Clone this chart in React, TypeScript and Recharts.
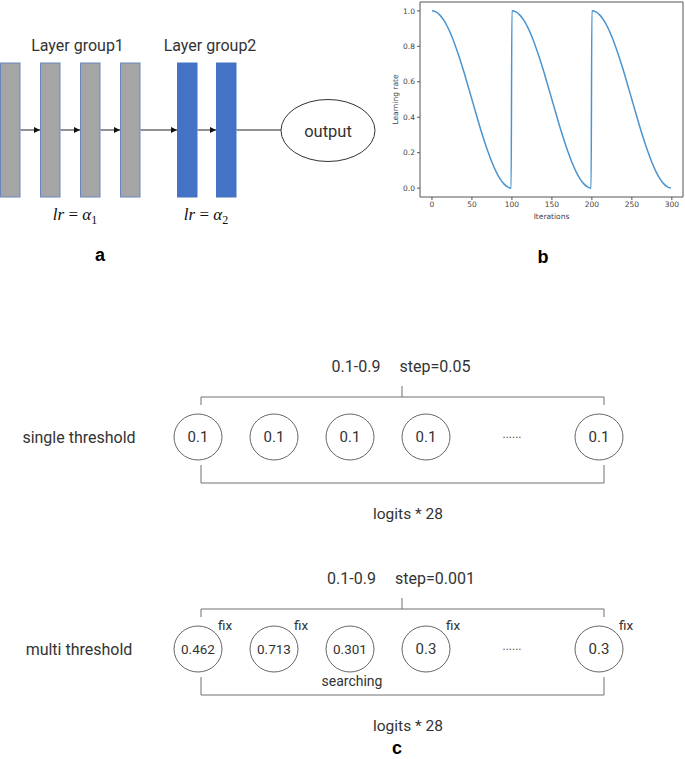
import React from "react";
import { LineChart, Line, XAxis, YAxis, ReferenceArea } from "recharts";

// panel b: cosine annealing with warm restarts
const cycleStarts = [0, 100, 200];
const cycleSteps = [0, 5, 10, 15, 20, 25, 30, 35, 40, 45, 50, 55, 60, 65, 70, 75, 80, 85, 90, 95, 99];
const cycleLr = [
  1.0, 0.994, 0.976, 0.946, 0.905, 0.854, 0.794, 0.727, 0.655, 0.578, 0.5,
  0.422, 0.345, 0.273, 0.206, 0.146, 0.095, 0.054, 0.024, 0.006, 0.0,
];
const xTicks = [0, 50, 100, 150, 200, 250, 300];
const yTicks = [0, 0.2, 0.4, 0.6, 0.8, 1.0];
const xDomain = [-14.95, 313.95];
const yDomain = [-0.05, 1.05];

// panel a
const groupLabels = ["Layer group1", "Layer group2"];
const groupLrIndex = ["1", "2"];
const outputLabel = "output";

// panel c
const rowTitles = ["single threshold", "multi threshold"];
const rowRanges = ["0.1-0.9", "0.1-0.9"];
const rowSteps = ["step=0.05", "step=0.001"];
const singleValues = ["0.1", "0.1", "0.1", "0.1", "0.1"];
const multiValues = ["0.462", "0.713", "0.301", "0.3", "0.3"];
const multiStatus = ["fix", "fix", "searching", "fix", "fix"];
const countLabel = "logits * 28";
const panelLetters = ["a", "b", "c"];

const lrData = cycleStarts.flatMap((start) =>
  cycleSteps.map((s, i) => ({ iter: start + s, lr: cycleLr[i] }))
);

const SANS = "Roboto, 'Noto Sans', sans-serif";
const TEXT = "#333";
const LINE = "#707070";

// layout
const grayBarX = [0, 40, 80, 120];
const blueBarX = [177, 216];
const BAR_W = 20.5;
const BAR_TOP = 63;
const BAR_BOTTOM = 197;
const ARROW_Y = 130;
const circleXs = [198, 274, 350, 426, 599];
const DOTS_X = 512;
const BRACE_L = 201;
const BRACE_R = 604;
const BRACE_MID = 402;
const rowCy = [437, 649];

function LayerPanel() {
  const bars = [...grayBarX.map((x) => ({ x, blue: false })), ...blueBarX.map((x) => ({ x, blue: true }))];
  const links: { x1: number; x2: number; arrow: boolean }[] = [];
  for (let i = 0; i < bars.length - 1; i++) {
    links.push({ x1: bars[i].x + BAR_W, x2: bars[i + 1].x, arrow: true });
  }
  links.push({ x1: bars[bars.length - 1].x + BAR_W, x2: 281, arrow: false });
  return (
    <g>
      <defs>
        <marker id="arr" markerWidth="6" markerHeight="6" refX="6" refY="3" orient="auto" markerUnits="userSpaceOnUse">
          <path d="M0,0 L6,3 L0,6 z" fill="#111" />
        </marker>
      </defs>
      {links.map((l, i) => (
        <line key={i} x1={l.x1} x2={l.x2} y1={ARROW_Y} y2={ARROW_Y} stroke="#222" strokeWidth={1} markerEnd={l.arrow ? "url(#arr)" : undefined} />
      ))}
      {bars.map((b, i) => (
        <rect
          key={i}
          x={b.x + 0.5}
          y={BAR_TOP}
          width={BAR_W - 1}
          height={BAR_BOTTOM - BAR_TOP}
          fill={b.blue ? "#4472c4" : "#a5a5a5"}
          stroke={b.blue ? "#4472c4" : "#6a86c0"}
          strokeWidth={1}
        />
      ))}
      <ellipse cx={328} cy={130.5} rx={47} ry={31} fill="#fff" stroke="#333" strokeWidth={1} />
      <text x={328} y={131} textAnchor="middle" dominantBaseline="central" fontFamily={SANS} fontSize={16.5} fill={TEXT}>
        {outputLabel}
      </text>
      {groupLabels.map((g, i) => (
        <text key={g} x={i === 0 ? 77.5 : 210} y={45} textAnchor="middle" dominantBaseline="central" fontFamily={SANS} fontSize={16} fill={TEXT}>
          {g}
        </text>
      ))}
      {groupLrIndex.map((k, i) => (
        <text key={k} x={i === 0 ? 75 : 206} y={220} textAnchor="middle" fontFamily="'Liberation Serif', 'DejaVu Serif', serif" fontSize={17} fill="#111">
          <tspan fontStyle="italic">lr</tspan>
          <tspan> = </tspan>
          <tspan fontStyle="italic">α</tspan>
          <tspan fontSize={12} dy={4}>{k}</tspan>
        </text>
      ))}
    </g>
  );
}

function ThresholdRow({ idx }: { idx: number }) {
  const cy = rowCy[idx];
  const values = idx === 0 ? singleValues : multiValues;
  const topY = cy - 40;
  const botY = cy + 46;
  return (
    <g fontFamily={SANS} fill={TEXT}>
      <text x={401} y={cy - 71} textAnchor="middle" dominantBaseline="central" fontSize={16}>
        <tspan>{rowRanges[idx]}</tspan>
        <tspan dx={19}>{rowSteps[idx]}</tspan>
      </text>
      <path
        d={`M${BRACE_L},${cy - 32} L${BRACE_L},${topY} L${BRACE_R},${topY} L${BRACE_R},${cy - 32} M${BRACE_MID},${topY} L${BRACE_MID},${cy - 51}`}
        fill="none"
        stroke={LINE}
        strokeWidth={1}
      />
      <path
        d={`M${BRACE_L},${cy + 28} L${BRACE_L},${botY} L${BRACE_R},${botY} L${BRACE_R},${cy + 28}`}
        fill="none"
        stroke={LINE}
        strokeWidth={1}
      />
      <text x={79} y={cy} textAnchor="middle" dominantBaseline="central" fontSize={16}>
        {rowTitles[idx]}
      </text>
      {values.map((v, i) => (
        <g key={i}>
          <ellipse cx={circleXs[i]} cy={cy} rx={24} ry={23} fill="none" stroke="#666" strokeWidth={1} />
          <text x={circleXs[i]} y={cy} textAnchor="middle" dominantBaseline="central" fontSize={v.length > 3 ? 13.5 : 15}>
            {v}
          </text>
        </g>
      ))}
      <text x={DOTS_X} y={cy - 3} textAnchor="middle" dominantBaseline="central" fontSize={12} fill="#555">
        ......
      </text>
      {idx === 1 &&
        multiStatus.map((s, i) =>
          s === "fix" ? (
            <text key={i} x={circleXs[i] + 27} y={cy - 24} textAnchor="middle" dominantBaseline="central" fontSize={13.5}>
              {s}
            </text>
          ) : (
            <text key={i} x={circleXs[i] + 2} y={cy + 32} textAnchor="middle" dominantBaseline="central" fontSize={14}>
              {s}
            </text>
          )
        )}
      <text x={408} y={cy + 77} textAnchor="middle" dominantBaseline="central" fontSize={15.5}>
        {countLabel}
      </text>
    </g>
  );
}

function LrChart() {
  const tick = { fontSize: 7.5, fill: "#444", fontFamily: "'DejaVu Sans', sans-serif" };
  return (
    <LineChart width={315} height={230} data={lrData} margin={{ top: 2, right: 2, bottom: 0, left: 0 }}>
      <XAxis
        dataKey="iter"
        type="number"
        domain={xDomain}
        ticks={xTicks}
        allowDataOverflow
        height={33}
        axisLine={false}
        tickLine={{ stroke: "#555" }}
        tickSize={3}
        tickMargin={2}
        tick={tick}
        label={{ value: "Iterations", position: "center", dy: 3, style: tick }}
      />
      <YAxis
        type="number"
        domain={yDomain}
        ticks={yTicks}
        allowDataOverflow
        width={50}
        axisLine={false}
        tickLine={{ stroke: "#555" }}
        tickSize={3}
        tickMargin={2}
        tick={tick}
        tickFormatter={(v: number) => v.toFixed(1)}
        label={{ value: "Learning rate", angle: -90, position: "center", style: tick }}
      />
      <ReferenceArea x1={xDomain[0]} x2={xDomain[1]} y1={yDomain[0]} y2={yDomain[1]} fill="none" stroke="#555" strokeWidth={1} />
      <Line dataKey="lr" type="monotone" stroke="#4a94d0" strokeWidth={1.5} dot={false} isAnimationActive={false} />
    </LineChart>
  );
}

export default function App() {
  const letterPos = [
    [100, 255],
    [543, 257],
    [397, 748],
  ];
  return (
    <div style={{ position: "relative", width: 685, height: 759, background: "#fff", overflow: "hidden" }}>
      <style>{"body{margin:0}"}</style>
      <svg width={685} height={759} style={{ position: "absolute", left: 0, top: 0 }}>
        <LayerPanel />
        <ThresholdRow idx={0} />
        <ThresholdRow idx={1} />
        {panelLetters.map((l, i) => (
          <text
            key={l}
            x={letterPos[i][0]}
            y={letterPos[i][1]}
            textAnchor="middle"
            dominantBaseline="central"
            fontFamily="'Liberation Sans', Arial, sans-serif"
            fontWeight="bold"
            fontSize={18}
            fill="#000"
          >
            {l}
          </text>
        ))}
      </svg>
      <div style={{ position: "absolute", left: 370, top: 0 }}>
        <LrChart />
      </div>
    </div>
  );
}
